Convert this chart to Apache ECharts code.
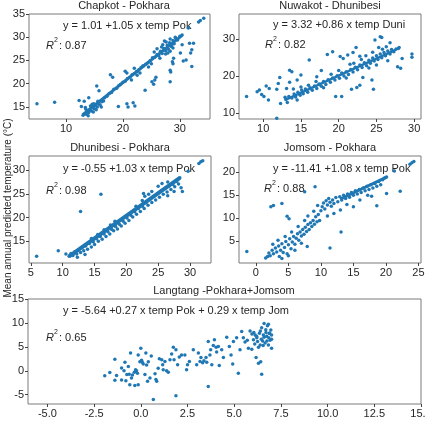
<!DOCTYPE html>
<html>
<head>
<meta charset="utf-8">
<script src="https://cdn.jsdelivr.net/npm/echarts@6/dist/echarts.min.js"></script>
<style>
  html, body { margin: 0; padding: 0; background: #fff; }
  #chart { width: 425px; height: 436px; }
</style>
</head>
<body>
<div id="chart"></div>
<script>
// panel titles / equations
const titles = ['Chapkot - Pokhara', 'Nuwakot - Dhunibesi', 'Dhunibesi - Pokhara', 'Jomsom - Pokhara', 'Langtang -Pokhara+Jomsom'];
const equations = [
    'y = 1.01 +1.05 x temp Pok',
    'y = 3.32 +0.86 x temp Duni',
    'y = -0.55 +1.03 x temp Pok',
    'y = -11.41 +1.08 x temp Pok',
    'y = -5.64 +0.27 x temp Pok + 0.29 x temp Jom'
];
const r2 = ['0.87', '0.82', '0.98', '0.88', '0.65'];

// tick labels
const xTicks = [[10, 20, 30], [10, 15, 20, 25, 30], [5, 10, 15, 20, 25, 30], [0, 5, 10, 15, 20, 25], [-5, -2.5, 0, 2.5, 5, 7.5, 10, 12.5, 15]];
const yTicks = [[15, 20, 25, 30, 35], [10, 20, 30], [15, 20, 25, 30], [5, 10, 15, 20], [-5, 0, 5, 10, 15]];
const xRange = [[3.5, 35.3], [6.8, 30.9], [4.7, 33.3], [-2.6, 25.4], [-6.04, 15]];
const yRange = [[12.4, 35], [8.3, 36.9], [10.4, 33.0], [0.2, 23.6], [-6.94, 15]];

// dense trail of points (start, end) in the first four panels
const trails = [
    [[12.9, 13.3], [30.4, 30.4]],
    [[13.0, 13.6], [27.6, 27.2]],
    [[11.0, 11.8], [28.4, 28.4]],
    [[13.0, 14.2], [20.1, 19.0]]
];
const trailWidth = [3, 2.5, 4, 3];

const chapkot = [
    [4.9, 15.7], [8.0, 16.0], [12.3, 16.4], [12.7, 15.1], [15.4, 19.5], [15.8, 18.5], [17.8, 21.9], [18.2, 21.4],
    [20.4, 22.7], [20.7, 22.3], [19.2, 15.1], [20.7, 15.7], [20.9, 15.0], [21.8, 15.9], [22.1, 15.2], [23.9, 18.6],
    [25.1, 20.4], [25.6, 20.8], [25.8, 21.4], [25.4, 19.9], [28.3, 22.9], [28.4, 22.5], [28.3, 20.4], [28.7, 24.7],
    [28.8, 24.3], [28.9, 25.5], [30.6, 24.9], [31.1, 25.1], [31.9, 26.6], [32.1, 27.3], [31.7, 28.7], [32.4, 28.7],
    [30.4, 28.4], [31.5, 32.0], [32.1, 23.7], [30.1, 26.6], [33.6, 33.6], [34.2, 34.1], [33.3, 33.3], [22.5, 22.6],
    [22.0, 23.3], [23.5, 23.8], [14.0, 17.0], [13.2, 16.2],
    [13.0, 13.2], [13.3, 13.5], [13.6, 13.4], [13.8, 14.0], [14.0, 13.8], [14.2, 14.4], [14.5, 14.1], [14.7, 14.8],
    [15.0, 14.6], [15.2, 15.3], [15.5, 15.0], [15.8, 15.6], [16.0, 15.4], [16.3, 16.1], [16.6, 16.3], [13.5, 14.5],
    [14.3, 15.2], [14.9, 15.7], [15.6, 16.2], [16.8, 17.0], [17.2, 17.3], [17.6, 17.9], [18.0, 18.1], [18.4, 18.8],
    [18.9, 19.0], [19.3, 19.6], [19.6, 19.9], [20.0, 20.3], [20.4, 20.5], [20.8, 21.1], [21.2, 21.4], [21.6, 21.9],
    [22.0, 22.2], [22.4, 22.6], [22.8, 23.0], [23.2, 23.5], [23.6, 23.8], [24.0, 24.2], [24.4, 24.5], [24.8, 25.0],
    [25.2, 25.6], [25.6, 25.7], [26.0, 26.3], [26.3, 26.0], [26.6, 27.0], [26.9, 26.5], [27.2, 27.6], [27.5, 27.1],
    [27.8, 28.3], [28.0, 27.4], [28.2, 28.8], [28.5, 28.0], [28.8, 29.3], [29.0, 28.6], [29.3, 29.8], [29.6, 29.4],
    [30.0, 30.2], [30.4, 30.5], [27.0, 28.4], [26.5, 25.5], [27.5, 26.4], [28.3, 27.0], [28.8, 27.7], [25.5, 26.8],
    [26.0, 27.5], [27.3, 29.2], [28.3, 29.6], [29.2, 30.0], [24.5, 23.6], [25.0, 24.3], [23.0, 22.3], [22.5, 21.8],
    [21.5, 20.8], [13.9, 13.1], [14.8, 13.9], [15.3, 14.4], [16.2, 15.0], [13.4, 14.9], [14.6, 15.6], [27.6, 29.0],
    [28.6, 28.4], [27.9, 26.6], [26.8, 27.9]
];

const nuwakot = [
    [7.8, 14.4], [9.2, 15.7], [9.5, 16.2], [9.8, 15.0], [10.1, 14.4], [10.7, 13.5], [10.4, 17.3], [10.8, 16.6],
    [11.8, 16.4], [11.8, 8.5], [12.2, 19.6], [12.0, 18.0], [12.3, 12.5], [12.9, 14.2], [13.5, 21.6], [13.8, 21.2],
    [13.1, 16.6], [13.5, 18.3], [14.5, 18.9], [15.0, 20.3], [16.1, 24.4], [17.1, 19.8], [17.7, 21.5], [18.5, 25.9],
    [19.2, 26.6], [20.2, 25.3], [20.6, 24.8], [21.2, 25.7], [21.9, 26.4], [22.3, 27.8], [19.6, 14.4], [20.4, 14.4],
    [21.7, 16.4], [22.4, 16.9], [22.8, 17.5], [23.2, 19.6], [24.4, 18.9], [24.6, 16.4], [25.5, 30.7], [25.7, 30.5],
    [24.8, 29.8], [26.8, 29.1], [27.9, 27.5], [28.4, 24.8], [27.8, 22.5], [28.2, 22.1], [29.7, 26.0], [29.7, 25.1],
    [13.0, 13.6], [13.4, 14.4], [13.8, 14.0], [14.1, 15.1], [14.3, 14.3], [14.6, 15.6], [14.9, 14.8], [15.1, 16.2],
    [15.3, 15.2], [15.6, 16.5], [15.9, 15.6], [16.2, 16.8], [16.5, 16.1], [16.8, 17.3], [17.1, 16.6], [17.4, 17.8],
    [17.7, 17.2], [18.0, 18.5], [18.3, 17.7], [18.6, 19.0], [18.9, 18.3], [19.2, 19.5], [19.5, 18.9], [19.8, 20.1],
    [20.1, 19.4], [20.4, 20.8], [20.7, 20.0], [21.0, 21.2], [21.3, 20.4], [21.6, 21.8], [21.9, 21.1], [22.2, 22.4],
    [22.5, 21.7], [22.8, 23.0], [23.1, 22.3], [23.4, 23.6], [23.7, 22.8], [24.0, 24.3], [24.2, 23.5], [24.5, 24.9],
    [24.7, 24.1], [25.0, 25.5], [25.2, 24.5], [25.5, 26.0], [25.7, 25.0], [26.0, 26.4], [26.2, 25.5], [26.5, 26.8],
    [26.8, 26.0], [27.0, 27.2], [27.3, 26.6], [27.6, 27.4], [24.5, 26.5], [25.8, 27.3], [24.0, 22.2], [25.0, 23.0],
    [23.0, 24.5], [26.5, 24.2], [22.0, 23.5], [21.0, 19.5], [20.0, 21.5], [19.0, 20.5], [18.0, 16.8], [17.0, 18.5],
    [16.0, 17.5], [15.0, 17.0], [14.0, 16.5], [13.2, 12.8], [14.5, 13.5], [28.0, 27.8], [26.3, 28.0], [25.3, 27.8],
    [23.6, 25.5], [22.8, 25.4], [21.5, 23.2]
];

const dhunibesi = [
    [5.9, 11.8], [9.3, 13.0], [10.5, 12.3], [12.8, 21.3], [16.0, 24.9], [22.7, 25.1], [29.7, 29.8], [31.4, 31.4],
    [31.7, 31.8], [32.0, 32.0], [28.6, 26.3], [28.8, 25.5],
    [11.0, 11.8], [11.3, 12.4], [11.6, 12.0], [11.9, 12.8], [12.2, 12.3], [12.5, 13.2], [12.8, 12.6], [13.0, 13.6],
    [13.3, 13.0], [13.6, 14.0], [13.9, 13.3], [14.2, 14.5], [14.5, 13.8], [14.8, 14.9], [15.0, 14.3], [15.3, 15.5],
    [15.6, 15.0], [15.9, 16.0], [16.2, 15.4], [16.5, 16.5], [16.8, 16.0], [17.1, 17.0], [17.4, 16.5], [17.7, 17.5],
    [18.0, 17.2], [18.3, 18.1], [18.6, 17.6], [18.9, 18.6], [19.2, 18.2], [19.5, 19.2], [19.8, 18.8], [20.1, 19.9],
    [20.4, 19.4], [20.7, 20.5], [21.0, 20.1], [21.3, 21.2], [21.6, 20.7], [21.9, 21.9], [22.2, 21.3], [22.5, 22.4],
    [22.8, 21.9], [23.1, 23.1], [23.4, 22.6], [23.7, 23.8], [24.0, 23.2], [24.3, 24.5], [24.6, 23.7], [24.9, 25.1],
    [25.2, 24.3], [25.5, 25.7], [25.8, 24.9], [26.1, 26.2], [26.4, 25.4], [26.7, 26.6], [27.0, 25.9], [27.3, 27.0],
    [27.6, 26.5], [27.9, 27.6], [28.2, 27.1], [28.4, 28.4], [24.0, 25.5], [25.0, 26.6], [25.6, 27.2], [26.5, 27.5],
    [23.5, 24.9], [22.5, 23.6], [27.5, 25.5], [26.5, 24.6], [12.3, 11.6], [13.5, 12.2], [14.5, 15.6], [15.5, 16.4],
    [16.5, 17.4], [17.5, 18.4], [18.2, 19.2], [21.5, 22.4], [22.9, 24.5]
];

const jomsom = [
    [-1.4, 2.7], [23.7, 21.8], [24.0, 22.1], [24.3, 22.4], [21.3, 20.3], [22.2, 15.9], [20.1, 15.4], [18.6, 12.7],
    [17.2, 15.0], [9.1, 16.9], [7.5, 15.8], [2.3, 12.5], [2.7, 12.8], [4.0, 13.2], [4.8, 10.4], [5.1, 9.9],
    [7.9, 3.8], [11.4, 3.5], [13.1, 7.0],
    [1.5, 1.3], [1.8, 1.6], [2.0, 2.4], [2.2, 1.8], [2.5, 3.0], [2.7, 2.2], [3.0, 3.5], [3.2, 2.6], [3.5, 3.9],
    [3.6, 1.6], [3.8, 3.0], [4.0, 4.4], [4.2, 2.5], [4.4, 3.6], [4.6, 4.9], [4.8, 2.2], [5.0, 4.2], [5.2, 5.5],
    [5.4, 3.3], [5.6, 4.8], [5.8, 6.0], [6.0, 4.3], [6.2, 5.6], [6.4, 6.6], [6.6, 5.2], [6.8, 7.0], [7.0, 6.1],
    [7.2, 7.5], [7.4, 6.5], [7.6, 8.0], [7.8, 7.1], [8.0, 8.6], [8.2, 7.5], [8.4, 9.0], [8.6, 8.2], [8.8, 9.5],
    [9.0, 8.7], [9.2, 10.3], [9.4, 9.2], [9.6, 10.8], [9.8, 9.5], [10.0, 11.6], [10.2, 12.5], [10.4, 13.3],
    [10.6, 12.0], [10.8, 13.8], [11.0, 12.9], [11.2, 14.3], [11.4, 13.5], [11.6, 12.6], [11.8, 14.0], [12.0, 13.2],
    [12.3, 14.5], [12.6, 13.6], [12.9, 14.7], [13.2, 14.0], [13.5, 15.0], [13.8, 14.3], [14.1, 15.3], [14.4, 14.6],
    [14.7, 15.6], [15.0, 15.0], [15.3, 16.0], [15.6, 15.3], [15.9, 16.3], [16.2, 15.6], [16.5, 16.6], [16.8, 16.0],
    [17.1, 17.0], [17.4, 16.3], [17.7, 17.3], [18.0, 16.6], [18.3, 17.6], [18.6, 17.0], [18.9, 18.0], [19.2, 17.3],
    [19.5, 18.4], [19.8, 18.8], [20.1, 19.0], [9.5, 12.8], [8.9, 11.5], [8.0, 10.5], [7.5, 9.5], [6.5, 8.2],
    [5.5, 7.0], [4.5, 6.0], [3.4, 5.2], [2.6, 4.3], [6.0, 3.0], [7.0, 4.5], [5.0, 1.8], [4.0, 1.2], [13.0, 11.8],
    [14.0, 13.0], [15.0, 12.5], [16.0, 14.0], [17.8, 14.8], [12.0, 11.0], [11.0, 10.5]
];

const langtang = [
    [-1.93, -1.04], [-1.66, -0.35], [-1.39, 2.43], [-1.39, -2.0], [-1.3, -0.97], [-1.03, 0.56], [-1.03, -1.9],
    [-0.9, 0.0], [-0.85, 1.8], [-0.8, -2.1], [-0.75, -0.8], [-0.67, 0.9], [-0.62, -0.7], [-0.59, -2.9],
    [-0.55, 3.7], [-0.5, -1.5], [-0.45, -0.9], [-0.35, -0.3], [-0.32, -3.1], [-0.28, 0.2], [-0.23, 0.0],
    [-0.18, -0.5], [-0.14, -2.9], [-0.14, 3.3], [-0.05, 1.9], [0.0, 4.7], [0.04, 2.2], [0.09, 1.75], [0.13, 1.4],
    [0.22, -0.8], [0.27, 3.7], [0.31, 1.2], [0.36, -2.2], [0.4, 1.9], [0.49, -1.5], [0.56, 3.1], [0.67, -6.0],
    [0.76, -0.6], [0.81, -1.8], [0.85, -2.2], [0.93, 0.55], [0.99, 2.5], [1.12, 2.3], [1.17, 1.25], [1.2, 0.2],
    [1.29, 1.95], [1.38, 0.0], [1.47, -0.3], [1.56, 2.3], [1.65, 3.5], [1.74, 4.9], [1.78, 2.3], [1.88, 4.4],
    [1.88, -5.2], [1.97, 1.25], [2.06, 2.9], [2.18, 3.3], [2.36, 3.3], [2.45, 0.2], [2.5, 1.25], [2.6, 1.95],
    [2.81, 4.4], [2.99, 1.25], [3.08, 3.7], [3.17, 1.95], [3.22, 2.8], [3.31, 1.7], [3.38, 2.1], [3.49, 2.8],
    [3.53, 1.8], [3.61, -3.3], [3.61, 6.1], [3.7, 3.3], [3.74, 4.4], [3.8, 1.25], [3.88, 5.3], [3.94, 6.5],
    [4.03, 4.9], [4.06, 3.9], [4.15, 5.1], [4.2, 1.1], [4.33, 4.4], [4.42, 2.8], [4.6, 7.0], [4.74, 5.1],
    [4.83, 3.3], [4.92, 1.4], [4.96, 6.1], [5.13, 6.9], [5.22, -0.5], [5.31, 4.4], [5.4, 8.2], [5.49, 6.9],
    [5.58, 6.0], [5.76, 4.7], [5.85, 8.3], [5.94, 4.5], [6.03, 6.5], [6.12, 7.5], [6.17, 2.8], [6.21, 6.9],
    [6.3, 1.6], [6.35, 7.85], [6.39, 5.4], [6.42, 1.9], [6.47, 9.0], [6.47, -0.7], [6.52, 6.2], [6.56, 7.5],
    [6.6, 9.9], [6.65, 5.8], [6.69, 8.6], [6.74, 7.2], [6.78, 9.4], [6.83, 5.4], [6.83, 9.7], [6.87, 7.8],
    [6.92, 6.4], [6.96, 8.5], [7.0, 7.5], [7.0, 4.7], [6.1, 5.6], [6.25, 6.1], [6.45, 6.6], [6.6, 7.0],
    [6.75, 6.2], [6.9, 7.9], [6.4, 8.3], [6.2, 7.2], [5.95, 7.7], [5.7, 6.4], [6.55, 5.3], [6.3, 4.9],
    [6.85, 6.9], [7.0, 6.6], [6.7, 8.0], [6.05, 8.0]
];

const panels = [chapkot, nuwakot, dhunibesi, jomsom, langtang];

// layout in pixels
const grids = [
    {left: 29, top: 14, width: 181, height: 105},
    {left: 239, top: 14, width: 182, height: 105},
    {left: 29, top: 156, width: 182, height: 107},
    {left: 239, top: 156, width: 182, height: 107},
    {left: 28, top: 299, width: 393, height: 105}
];
const titleX = [124, 330, 120, 330, 224];
const eqPos = [[63, 26], [273, 25], [63, 169], [273, 169], [63, 311]];
const r2Pos = [[46, 46], [265, 45], [46, 191], [264, 189], [46, 338]];

const textColor = '#262626';
const font = 'Liberation Sans, Arial, sans-serif';
const blue = '#1f77b4';

const chart = echarts.init(document.getElementById('chart'), null, {renderer: 'canvas'});

const xAxis = [], yAxis = [], series = [], title = [], graphic = [];

panels.forEach((pts, i) => {
    const g = grids[i];
    xAxis.push({
        type: 'value', gridIndex: i, min: xRange[i][0], max: xRange[i][1],
        axisLine: {show: false, onZero: false}, splitLine: {show: false},
        axisTick: {show: true, customValues: xTicks[i], length: 3, lineStyle: {color: '#444'}},
        axisLabel: {
            customValues: xTicks[i], color: textColor, fontSize: 11, fontFamily: font, margin: 4,
            formatter: v => (i === 4 ? v.toFixed(1) : String(v))
        }
    });
    yAxis.push({
        type: 'value', gridIndex: i, min: yRange[i][0], max: yRange[i][1],
        axisLine: {show: false, onZero: false}, splitLine: {show: false},
        axisTick: {show: true, customValues: yTicks[i], length: 3, lineStyle: {color: '#444'}},
        axisLabel: {customValues: yTicks[i], color: textColor, fontSize: 11, fontFamily: font, margin: 4}
    });
    if (i < 4) {
        series.push({
            type: 'line', xAxisIndex: i, yAxisIndex: i, data: trails[i], symbol: 'none',
            lineStyle: {color: blue, width: trailWidth[i]}, silent: true, z: 2
        });
    }
    series.push({
        type: 'scatter', xAxisIndex: i, yAxisIndex: i, data: pts,
        symbolSize: 3.5, itemStyle: {color: blue, opacity: 1}, z: 3
    });
    title.push({
        text: titles[i], left: titleX[i], top: g.top - 14, textAlign: 'center', padding: 0,
        textStyle: {fontSize: 11, fontWeight: 'normal', color: textColor, fontFamily: font}
    });
    graphic.push({
        type: 'text', left: eqPos[i][0], top: eqPos[i][1] - 6,
        style: {text: equations[i], fontSize: 11, fill: textColor, fontFamily: font}
    });
    const [rx, ry] = r2Pos[i];
    graphic.push({
        type: 'text', left: rx, top: ry - 6,
        style: {text: 'R', fontSize: 11, fontStyle: 'italic', fill: textColor, fontFamily: font}
    });
    graphic.push({
        type: 'text', left: rx + 8, top: ry - 9,
        style: {text: '2', fontSize: 7, fill: textColor, fontFamily: font}
    });
    graphic.push({
        type: 'text', left: rx + 13, top: ry - 6,
        style: {text: ': ' + r2[i], fontSize: 11, fill: textColor, fontFamily: font}
    });
});

// shared y label
graphic.push({
    type: 'text', x: 3, y: 208, rotation: Math.PI / 2,
    style: {
        text: 'Mean annual predicted temperature (\u00B0C)', fontSize: 10, fill: textColor,
        fontFamily: font, align: 'center', verticalAlign: 'top'
    }
});

chart.setOption({
    animation: false,
    backgroundColor: '#fff',
    title,
    grid: grids.map(g => Object.assign({
        show: true, borderColor: '#7a7a7a', borderWidth: 1, backgroundColor: '#fff', outerBoundsMode: 'none'
    }, g)),
    xAxis,
    yAxis,
    series,
    graphic
});
</script>
</body>
</html>
